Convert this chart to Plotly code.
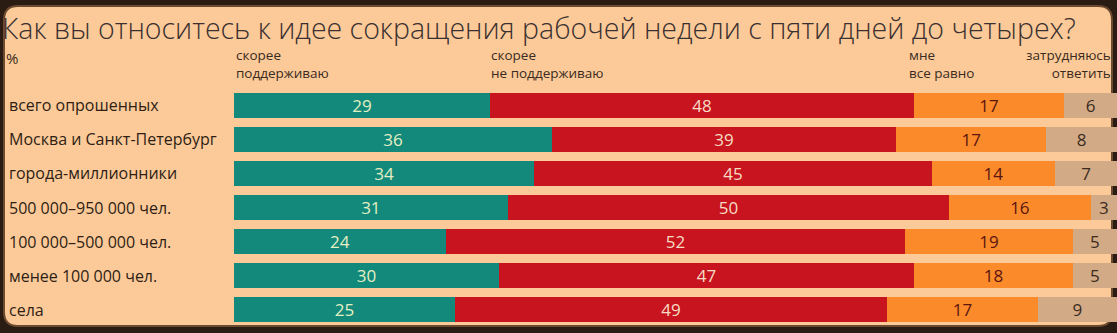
import plotly.graph_objects as go

categories = ["всего опрошенных", "Москва и Санкт-Петербург", "города-миллионники",
              "500 000–950 000 чел.", "100 000–500 000 чел.", "менее 100 000 чел.", "села"]
support = [29, 36, 34, 31, 24, 30, 25]
not_support = [48, 39, 45, 50, 52, 47, 49]
indifferent = [17, 17, 14, 16, 19, 18, 17]
hard_to_say = [6, 8, 7, 3, 5, 5, 9]

series_names = ["скорее<br>поддерживаю", "скорее<br>не поддерживаю", "мне<br>все равно", "затрудняюсь<br>ответить"]
title_text = "Как вы относитесь к идее сокращения рабочей недели с пяти дней до четырех?"

W, H = 1117, 333
L, R, T, B = 234, 0, 88, 6
PW, PH = W - L - R, H - T - B

def px(x):
    return (x - L) / PW

def py(y):
    return (H - B - y) / PH

FONT = "Open Sans"
colors = ["#12897a", "#c8141f", "#fb8a2b", "#d2aa86"]
text_colors = ["#e4efc4", "#f6dcc4", "#5a1510", "#3a2a1e"]

fig = go.Figure()
for vals, col, tcol, nm in zip([support, not_support, indifferent, hard_to_say], colors, text_colors, series_names):
    fig.add_trace(go.Bar(
        y=categories, x=vals, orientation="h", marker=dict(color=col, line=dict(width=0)),
        text=[str(v) for v in vals], textposition="inside", insidetextanchor="middle",
        textangle=0, constraintext="none",
        insidetextfont=dict(family=FONT, size=17, color=tcol),
        name=nm.replace("<br>", " "), showlegend=False, hoverinfo="skip"))

# rounded peach card on dark grungy background
x0, x1, y0, y1, r = px(4), px(1112), py(6), py(326), 14
rx, ry = r / PW, r / PH
path = (f"M {x0+rx},{y0} L {x1-rx},{y0} Q {x1},{y0} {x1},{y0-ry} "
        f"L {x1},{y1+ry} Q {x1},{y1} {x1-rx},{y1} L {x0+rx},{y1} Q {x0},{y1} {x0},{y1+ry} "
        f"L {x0},{y0-ry} Q {x0},{y0} {x0+rx},{y0} Z")
shapes = [dict(type="path", xref="paper", yref="paper", path=path, fillcolor="#fcca99",
               line=dict(color="#6b4a30", width=2), layer="below")]

annotations = []
annotations.append(dict(text=title_text, xref="paper", yref="paper", x=px(0), y=py(28),
                        xanchor="left", yanchor="middle", showarrow=False,
                        font=dict(family=FONT, size=28.5, color="#3a3030", weight=300)))
annotations.append(dict(text="%", xref="paper", yref="paper", x=px(4), y=py(58),
                        xanchor="left", yanchor="middle", showarrow=False,
                        font=dict(family=FONT, size=15, color="#3a2a20")))
hdr_x = [234, 489, 907, 1113]
hdr_anchor = ["left", "left", "left", "right"]
for nm, hx, anc in zip(series_names, hdr_x, hdr_anchor):
    annotations.append(dict(text=nm, xref="paper", yref="paper", x=px(hx), y=py(84.5),
                            xanchor=anc, yanchor="bottom", showarrow=False, align=anc,
                            font=dict(family=FONT, size=13.5, color="#3a2a20")))
for c in categories:
    annotations.append(dict(text=c, xref="paper", yref="y", x=px(7), y=c,
                            xanchor="left", yanchor="middle", showarrow=False,
                            font=dict(family=FONT, size=16, color="#2e1e14")))

fig.update_layout(
    barmode="stack", bargap=0.27,
    width=W, height=H, margin=dict(l=L, r=R, t=T, b=B, pad=0),
    paper_bgcolor="#2a1c12", plot_bgcolor="rgba(0,0,0,0)",
    xaxis=dict(range=[0, 100], visible=False, fixedrange=True),
    yaxis=dict(autorange="reversed", showticklabels=False, showgrid=False, zeroline=False,
               fixedrange=True),
    shapes=shapes, annotations=annotations, showlegend=False,
    uniformtext=dict(minsize=8, mode="show"),
)
fig.write_html("out.html", config={"displayModeBar": False})
